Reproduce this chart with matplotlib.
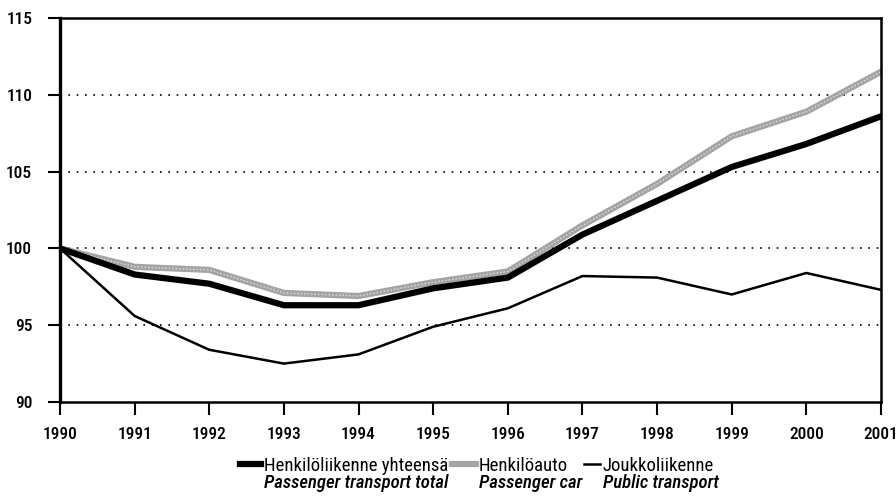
import matplotlib
matplotlib.use('Agg')
from matplotlib import pyplot as plt

plt.rcParams['font.family'] = ['Roboto Condensed', 'Archivo Narrow', 'DejaVu Sans']

years = [1990, 1991, 1992, 1993, 1994, 1995, 1996, 1997, 1998, 1999, 2000, 2001]
total = [100, 98.3, 97.7, 96.3, 96.3, 97.4, 98.1, 100.9, 103.1, 105.3, 106.8, 108.6]
car = [100, 98.8, 98.6, 97.1, 96.9, 97.8, 98.5, 101.5, 104.2, 107.3, 108.9, 111.5]
public = [100, 95.6, 93.4, 92.5, 93.1, 94.9, 96.1, 98.2, 98.1, 97.0, 98.4, 97.3]

labels_fi = ['Henkilöliikenne yhteensä', 'Henkilöauto', 'Joukkoliikenne']
labels_en = ['Passenger transport total', 'Passenger car', 'Public transport']

fig = plt.figure(figsize=(8.96, 4.96), dpi=100)
ax = fig.add_axes([60 / 896, 1 - 402 / 496, 821 / 896, 384 / 496])

for yv in [95, 100, 105, 110]:
    ax.axhline(yv, color='black', lw=1.2, ls=(0, (1, 4)), zorder=1)

l2, = ax.plot(years, car, color='#a4a4a4', lw=4.5, zorder=2, solid_joinstyle='round')
ax.plot(years, car, color='#e0e0e0', lw=1.0, ls=(0, (1, 1.5)), zorder=2)
l1, = ax.plot(years, total, color='black', lw=4.5, zorder=3, solid_joinstyle='round')
l3, = ax.plot(years, public, color='black', lw=1.8, zorder=3)

ax.set_xlim(1990, 2001)
ax.set_ylim(90, 115)
ax.set_xticks(years)
ax.set_yticks([90, 95, 100, 105, 110, 115])
ax.tick_params(direction='out', length=9, width=1.5, labelsize=12.5)
ax.tick_params(axis='x', pad=9)
ax.tick_params(axis='y', pad=11)
for lab in ax.get_xticklabels() + ax.get_yticklabels():
    lab.set_fontweight('medium')
for s in ax.spines.values():
    s.set_linewidth(1.8)
ax.spines['left'].set_linewidth(2.4)

# one legend per entry, placed at the handle's left edge
handles = [l1, l2, l3]
handle_x = [240, 452, 584]
handle_len = [1.12, 1.28, 0.85]
legs = []
for h, lab, hx, hl in zip(handles, labels_fi, handle_x, handle_len):
    lg = fig.legend([h], [lab], loc='center left', bbox_to_anchor=(hx / 896, 1 - 466 / 496),
                    frameon=False, fontsize=13.5, handlelength=hl, handletextpad=0.15,
                    borderpad=0, borderaxespad=0)
    legs.append(lg)

fig.canvas.draw()
inv = fig.transFigure.inverted()
for lg, en in zip(legs, labels_en):
    t = lg.get_texts()[0]
    bb = t.get_window_extent()
    x0, y0 = inv.transform((bb.x0, bb.y0))
    fig.text(x0, y0 + 0.002, en, style='italic', fontweight='medium', fontsize=13.5, va='top', ha='left')

fig.savefig('out.png', dpi=100)
